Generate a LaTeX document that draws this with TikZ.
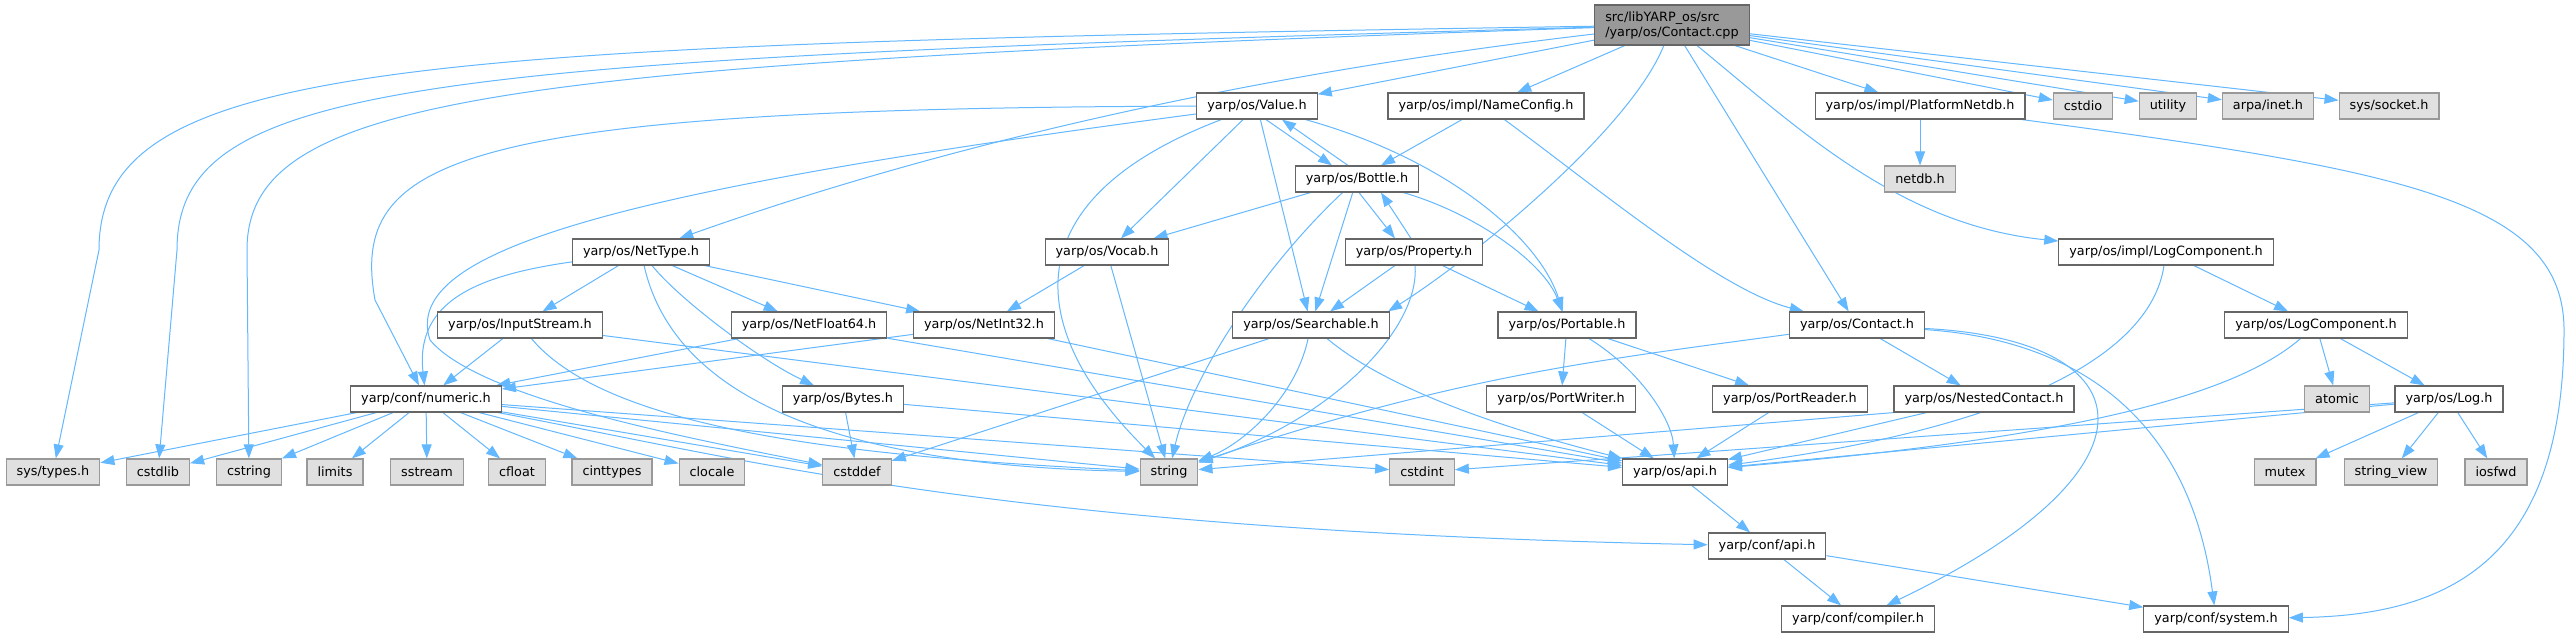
\documentclass[tikz,border=0pt]{standalone}
\usepackage{fontspec}
\setmainfont{DejaVu Sans}
\definecolor{EdgeBlue}{HTML}{63B8FF}
\definecolor{BoxLine}{HTML}{666666}
\definecolor{ExtLine}{HTML}{999999}
\definecolor{ExtFill}{HTML}{E0E0E0}
\definecolor{SrcFill}{HTML}{999999}
\usetikzlibrary{arrows.meta,backgrounds}

\begin{document}
\begin{tikzpicture}[x=1pt,y=-1pt,
hdr/.style={draw=BoxLine,line width=1.2pt,fill=white,minimum height=26pt,inner xsep=10.5pt,inner ysep=0pt,font=\fontsize{12.8}{15}\selectfont},
ext/.style={hdr,draw=ExtLine,fill=ExtFill},
srcbox/.style={hdr,fill=SrcFill,align=left,minimum height=40pt},
dep/.style={-{Triangle[length=14pt,width=10pt]},line width=1pt,draw=EdgeBlue}
]
\useasboundingbox (0,0) rectangle (2571,637);
% first rows
\node[srcbox] (main) at (1672,25) {src/libYARP\_os/src\\/yarp/os/Contact.cpp};
\node[hdr] (val) at (1257,106) {yarp/os/Value.h};
\node[hdr] (ncfg) at (1486,106) {yarp/os/impl/NameConfig.h};
\node[hdr] (pnet) at (1920,106) {yarp/os/impl/PlatformNetdb.h};
\node[ext] (cstdio) at (2083,106) {cstdio};
\node[ext] (utility) at (2168,106) {utility};
\node[ext] (inet) at (2268,106) {arpa/inet.h};
\node[ext] (sock) at (2389,106) {sys/socket.h};
\node[hdr] (btl) at (1357,179) {yarp/os/Bottle.h};
\node[ext] (netdb) at (1920,179) {netdb.h};
\node[hdr] (ntype) at (641,252) {yarp/os/NetType.h};
\node[hdr] (voc) at (1107,252) {yarp/os/Vocab.h};
\node[hdr] (prop) at (1414,252) {yarp/os/Property.h};
\node[hdr] (ilog) at (2166,252) {yarp/os/impl/LogComponent.h};
% middle rows
\node[hdr] (istr) at (520,325) {yarp/os/InputStream.h};
\node[hdr] (nf64) at (809,325) {yarp/os/NetFloat64.h};
\node[hdr] (ni32) at (984,325) {yarp/os/NetInt32.h};
\node[hdr] (srch) at (1311,325) {yarp/os/Searchable.h};
\node[hdr] (port) at (1567,325) {yarp/os/Portable.h};
\node[hdr] (cnt) at (1857,325) {yarp/os/Contact.h};
\node[hdr] (logc) at (2316,325) {yarp/os/LogComponent.h};
\node[hdr] (num) at (426,399) {yarp/conf/numeric.h};
\node[hdr] (byt) at (843,399) {yarp/os/Bytes.h};
\node[hdr] (pw) at (1561,399) {yarp/os/PortWriter.h};
\node[hdr] (pr) at (1790,399) {yarp/os/PortReader.h};
\node[hdr] (nest) at (1984,399) {yarp/os/NestedContact.h};
\node[ext] (atomic) at (2337,399) {atomic};
\node[hdr] (lg) at (2449,399) {yarp/os/Log.h};
% leaf row
\node[ext] (types) at (53,472) {sys/types.h};
\node[ext] (cstdlib) at (158,472) {cstdlib};
\node[ext] (cstring) at (249,472) {cstring};
\node[ext] (limits) at (335,472) {limits};
\node[ext] (sstream) at (427,472) {sstream};
\node[ext] (cfloat) at (517,472) {cfloat};
\node[ext] (cinttypes) at (612,472) {cinttypes};
\node[ext] (clocale) at (712,472) {clocale};
\node[ext] (cstddef) at (857,472) {cstddef};
\node[ext] (str) at (1169,472) {string};
\node[ext] (cstdint) at (1422,472) {cstdint};
\node[hdr] (api) at (1675,472) {yarp/os/api.h};
\node[ext] (mutex) at (2285,472) {mutex};
\node[ext] (strv) at (2391,472) {string\_view};
\node[ext] (iosfwd) at (2496,472) {iosfwd};
\node[hdr] (capi) at (1767,546) {yarp/conf/api.h};
\node[hdr] (comp) at (1858,619) {yarp/conf/compiler.h};
\node[hdr] (sysh) at (2216,619) {yarp/conf/system.h};
\begin{scope}[on background layer]
\fill[white] (0,0) rectangle (2571,637);
% edges from the source file
\draw[dep] (main) -- (val);
\draw[dep] (main) -- (ncfg);
\draw[dep] (main) -- (pnet);
\draw[dep] (main) -- (cstdio);
\draw[dep] (main) -- (utility);
\draw[dep] (main) -- (inet);
\draw[dep] (main) -- (sock);
\draw[dep] (main) .. controls (1200,80) and (900,160) .. (ntype);
\draw[dep] (main) .. controls (1630,130) and (1470,260) .. (srch.10);
\draw[dep] (main) -- (cnt);
\draw[dep] (main) .. controls (1800,130) and (1900,225) .. (ilog);
\draw[dep] (main) .. controls (400,45) and (99,60) .. (99,250) -- (types);
\draw[dep] (main) .. controls (420,60) and (177,80) .. (177,250) -- (cstdlib);
\draw[dep] (main) .. controls (500,65) and (247,95) .. (247,250) -- (cstring);
% Value.h and Bottle.h
\draw[dep] (val) .. controls (450,108) and (350,160) .. (375,300) -- (num);
\draw[dep] (val) .. controls (620,190) and (400,250) .. (430,340) .. controls (480,400) and (700,440) .. (cstddef);
\draw[dep] (val) -- (voc);
\draw[dep] (val) .. controls (1010,200) and (1025,330) .. (str);
\draw[dep] (val) -- (srch);
\draw[dep] ([xshift=9pt]val.south) -- ([xshift=-25pt]btl.north);
\draw[dep] (val) .. controls (1450,160) and (1540,240) .. (port);
\draw[dep] ([xshift=-9pt]btl.north) -- ([xshift=25pt]val.south);
\draw[dep] (btl) -- (voc);
\draw[dep] (btl) .. controls (1260,270) and (1190,380) .. (str);
\draw[dep] (btl) -- (srch);
\draw[dep] ([xshift=2pt]btl.south) -- ([xshift=-19pt]prop.north);
\draw[dep] (btl) .. controls (1480,215) and (1545,265) .. (port);
\draw[dep] (ncfg) -- (btl);
\draw[dep] (ncfg) .. controls (1600,190) and (1720,290) .. (cnt);
\draw[dep] (pnet) -- (netdb);
\draw[dep] (pnet) .. controls (2400,170) and (2564,200) .. (2564,330) .. controls (2564,560) and (2450,615) .. (sysh);
\draw[dep] ([xshift=-3pt]prop.north) -- ([xshift=24pt]btl.south);
\draw[dep] (prop) -- (srch);
\draw[dep] (prop) -- (port);
\draw[dep] (prop) .. controls (1420,330) and (1330,420) .. (str);
\draw[dep] (voc) -- (ni32);
\draw[dep] (voc) -- (str);
% NetType.h
\draw[dep] (ntype) .. controls (480,275) and (415,300) .. (num);
\draw[dep] (ntype) -- (istr);
\draw[dep] (ntype) .. controls (680,300) and (760,360) .. (byt);
\draw[dep] (ntype) -- (nf64);
\draw[dep] (ntype) -- (ni32);
\draw[dep] (ntype) .. controls (670,380) and (800,465) .. (str);
\draw[dep] (ilog) -- (logc);
\draw[dep] (ilog) .. controls (2150,360) and (2000,430) .. (api);
\draw[dep] (istr) -- (num);
\draw[dep] (istr) .. controls (600,420) and (800,455) .. (str);
\draw[dep] (istr) -- (api);
\draw[dep] (nf64) -- (num);
\draw[dep] (nf64) -- (api);
\draw[dep] (ni32) -- (num);
\draw[dep] (ni32) -- (api);
\draw[dep] (srch) -- (cstddef);
\draw[dep] (srch) .. controls (1295,400) and (1240,445) .. (str);
\draw[dep] (srch) .. controls (1400,400) and (1550,440) .. (api);
\draw[dep] (port) -- (pw);
\draw[dep] (port) .. controls (1640,370) and (1672,420) .. (api);
\draw[dep] (port) -- (pr);
% Contact.h and logging
\draw[dep] (cnt) .. controls (1600,360) and (1460,375) .. (str);
\draw[dep] (cnt) -- (nest);
\draw[dep] (cnt) .. controls (2150,340) and (2170,470) .. (comp);
\draw[dep] (cnt) .. controls (2080,340) and (2190,420) .. (sysh);
\draw[dep] (nest.south west) -- (str);
\draw[dep] (nest) -- (api);
\draw[dep] (logc) -- (atomic);
\draw[dep] (logc) -- (lg);
\draw[dep] (logc) .. controls (2230,400) and (2050,440) .. (api);
\draw[dep] (lg) -- (mutex);
\draw[dep] (lg) -- (strv);
\draw[dep] (lg) -- (iosfwd);
\draw[dep] (lg) -- (api);
\draw[dep] (lg) -- (cstdint);
% numeric.h
\draw[dep] (num) -- (types);
\draw[dep] (num) -- (cstdlib);
\draw[dep] (num) -- (cstring);
\draw[dep] (num) -- (limits);
\draw[dep] (num) -- (sstream);
\draw[dep] (num) -- (cfloat);
\draw[dep] (num) -- (cinttypes);
\draw[dep] (num) -- (clocale);
\draw[dep] (num) -- (cstddef);
\draw[dep] (num) -- (str);
\draw[dep] (num) -- (cstdint);
\draw[dep] (num) .. controls (750,460) and (1000,530) .. (capi);
\draw[dep] (byt) -- (cstddef);
\draw[dep] (byt) -- (api);
\draw[dep] (pw) -- (api);
\draw[dep] (pr) -- (api);
\draw[dep] (api) -- (capi);
\draw[dep] (capi) -- (comp);
\draw[dep] (capi) -- (sysh);
\end{scope}
\end{tikzpicture}
\end{document}
